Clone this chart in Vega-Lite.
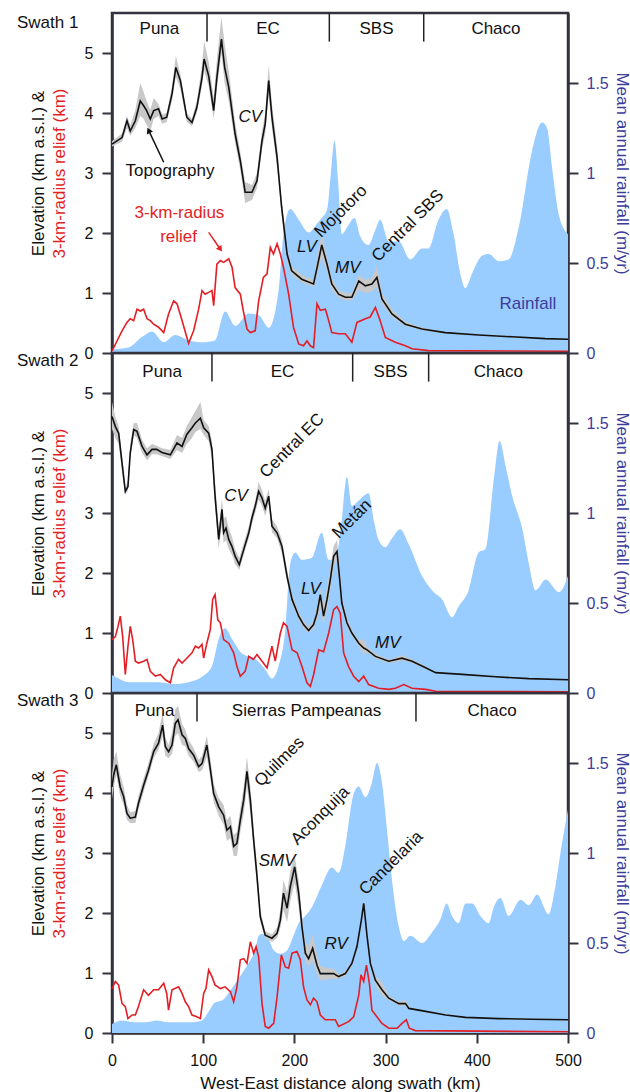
{
"$schema": "https://vega.github.io/schema/vega-lite/v6.json",
"padding": {"left": 15, "top": 11, "right": 0, "bottom": 0},
"background": "white",
"datasets": {
"t1": [
{"km":0,"elev":3.48,"lo":3.44,"hi":3.53},{"km":11,"elev":3.59,"lo":3.52,"hi":3.66},{"km":16.4,"elev":3.87,"lo":3.75,"hi":3.95},{"km":20,"elev":3.7,"lo":3.62,"hi":3.8},{"km":25.6,"elev":3.87,"lo":3.75,"hi":4.05},{"km":31,"elev":4.2,"lo":3.95,"hi":4.5},{"km":34.7,"elev":4.12,"lo":3.9,"hi":4.35},{"km":38,"elev":4.04,"lo":3.8,"hi":4.2},{"km":42,"elev":3.9,"lo":3.7,"hi":4.05},{"km":45.7,"elev":4.04,"lo":3.9,"hi":4.25},{"km":51,"elev":4.07,"lo":3.95,"hi":4.15},{"km":55,"elev":3.9,"lo":3.82,"hi":3.98},{"km":60,"elev":3.93,"lo":3.85,"hi":4.0},{"km":65.8,"elev":4.32,"lo":4.2,"hi":4.45},{"km":70,"elev":4.76,"lo":4.6,"hi":4.95},{"km":75,"elev":4.54,"lo":4.4,"hi":4.65},{"km":82,"elev":3.93,"lo":3.85,"hi":4.0},{"km":87.7,"elev":3.84,"lo":3.78,"hi":3.9},{"km":93,"elev":4.09,"lo":4.0,"hi":4.2},{"km":98.7,"elev":4.59,"lo":4.45,"hi":4.8},{"km":101,"elev":4.9,"lo":4.7,"hi":5.2},{"km":106,"elev":4.62,"lo":4.45,"hi":4.85},{"km":111.5,"elev":4.04,"lo":3.9,"hi":4.25},{"km":115,"elev":4.59,"lo":4.4,"hi":4.9},{"km":120,"elev":5.23,"lo":5.0,"hi":5.6},{"km":123.5,"elev":4.76,"lo":4.5,"hi":5.15},{"km":128,"elev":4.43,"lo":4.2,"hi":4.7},{"km":135,"elev":3.65,"lo":3.5,"hi":3.85},{"km":140.7,"elev":3.2,"lo":3.05,"hi":3.35},{"km":146,"elev":2.68,"lo":2.5,"hi":2.85},{"km":153.5,"elev":2.68,"lo":2.55,"hi":2.8},{"km":159,"elev":2.87,"lo":2.75,"hi":3.0},{"km":164.5,"elev":3.54,"lo":3.4,"hi":3.7},{"km":168,"elev":3.82,"lo":3.65,"hi":4.0},{"km":171.8,"elev":4.54,"lo":4.3,"hi":4.8},{"km":175.4,"elev":3.93,"lo":3.75,"hi":4.15},{"km":181,"elev":3.26,"lo":3.1,"hi":3.45},{"km":186,"elev":2.43,"lo":2.3,"hi":2.55},{"km":192,"elev":1.65,"lo":1.55,"hi":1.75},{"km":197,"elev":1.37,"lo":1.3,"hi":1.45},{"km":208,"elev":1.23,"lo":1.18,"hi":1.3},{"km":221,"elev":1.15,"lo":1.1,"hi":1.22},{"km":225,"elev":1.43,"lo":1.3,"hi":1.6},{"km":230,"elev":1.8,"lo":1.6,"hi":2.0},{"km":235.8,"elev":1.48,"lo":1.35,"hi":1.6},{"km":241,"elev":1.15,"lo":1.05,"hi":1.25},{"km":248.5,"elev":0.98,"lo":0.92,"hi":1.05},{"km":255.8,"elev":0.93,"lo":0.88,"hi":1.0},{"km":263,"elev":0.93,"lo":0.88,"hi":1.0},{"km":270.6,"elev":1.2,"lo":1.05,"hi":1.3},{"km":277.8,"elev":1.12,"lo":1.0,"hi":1.22},{"km":285,"elev":1.15,"lo":1.02,"hi":1.25},{"km":290.5,"elev":1.26,"lo":1.1,"hi":1.45},{"km":296,"elev":0.9,"lo":0.82,"hi":1.0},{"km":307,"elev":0.65,"lo":0.6,"hi":0.72},{"km":321.6,"elev":0.48,"lo":0.45,"hi":0.52},{"km":339.9,"elev":0.4,"lo":0.38,"hi":0.42},{"km":365.5,"elev":0.34,"lo":0.33,"hi":0.35},{"km":402,"elev":0.3,"lo":0.29,"hi":0.31},{"km":438.6,"elev":0.27,"lo":0.26,"hi":0.28},{"km":475,"elev":0.24,"lo":0.23,"hi":0.25},{"km":500,"elev":0.23,"lo":0.22,"hi":0.24}
],
"r1": [
{"km":0,"relief":0.03},{"km":5.5,"relief":0.2},{"km":11,"relief":0.37},{"km":16.4,"relief":0.51},{"km":20,"relief":0.57},{"km":23.8,"relief":0.54},{"km":27.4,"relief":0.73},{"km":31,"relief":0.7},{"km":34.7,"relief":0.73},{"km":38.4,"relief":0.57},{"km":42,"relief":0.54},{"km":45.7,"relief":0.48},{"km":51,"relief":0.43},{"km":56.7,"relief":0.34},{"km":62,"relief":0.65},{"km":67.6,"relief":0.87},{"km":71.3,"relief":0.82},{"km":76.8,"relief":0.54},{"km":80,"relief":0.37},{"km":84,"relief":0.16},{"km":89.5,"relief":0.37},{"km":95,"relief":0.73},{"km":98.7,"relief":1.04},{"km":102,"relief":0.98},{"km":106,"relief":1.01},{"km":109.6,"relief":1.04},{"km":111.5,"relief":0.79},{"km":115,"relief":1.48},{"km":118.8,"relief":1.54},{"km":122.4,"relief":1.51},{"km":128,"relief":1.57},{"km":131.6,"relief":1.43},{"km":135,"relief":1.09},{"km":140.7,"relief":0.98},{"km":144,"relief":0.7},{"km":148,"relief":0.4},{"km":151.7,"relief":0.34},{"km":157,"relief":0.37},{"km":160.8,"relief":0.87},{"km":166,"relief":1.26},{"km":170,"relief":1.32},{"km":173.6,"relief":1.76},{"km":177,"relief":1.65},{"km":181,"relief":1.82},{"km":184.6,"relief":1.65},{"km":188,"relief":1.43},{"km":193.7,"relief":0.98},{"km":199,"relief":0.43},{"km":204.7,"relief":0.15},{"km":210,"relief":0.12},{"km":213.8,"relief":0.2},{"km":217.5,"relief":0.12},{"km":221,"relief":0.09},{"km":224.8,"relief":0.82},{"km":228.4,"relief":0.71},{"km":234,"relief":0.73},{"km":237.6,"relief":0.54},{"km":241,"relief":0.34},{"km":248.5,"relief":0.32},{"km":255.8,"relief":0.32},{"km":263,"relief":0.18},{"km":268.6,"relief":0.51},{"km":277.8,"relief":0.57},{"km":283,"relief":0.6},{"km":288.8,"relief":0.76},{"km":294,"relief":0.54},{"km":299.7,"relief":0.26},{"km":310.7,"relief":0.18},{"km":321.6,"relief":0.12},{"km":329,"relief":0.07},{"km":347,"relief":0.04},{"km":500,"relief":0.03}
],
"p1": [
{"km":0,"rain":0.02},{"km":18,"rain":0.03},{"km":33,"rain":0.09},{"km":44,"rain":0.12},{"km":56.7,"rain":0.06},{"km":69.4,"rain":0.1},{"km":84,"rain":0.07},{"km":98.7,"rain":0.06},{"km":113,"rain":0.07},{"km":124,"rain":0.23},{"km":135,"rain":0.15},{"km":150,"rain":0.22},{"km":161,"rain":0.21},{"km":172,"rain":0.14},{"km":182.7,"rain":0.35},{"km":188,"rain":0.66},{"km":195.5,"rain":0.8},{"km":204.7,"rain":0.74},{"km":215.6,"rain":0.67},{"km":225,"rain":0.72},{"km":230,"rain":0.75},{"km":236,"rain":0.8},{"km":240,"rain":1.0},{"km":244,"rain":1.18},{"km":248,"rain":0.95},{"km":252,"rain":0.66},{"km":258,"rain":0.7},{"km":266,"rain":0.75},{"km":272,"rain":0.65},{"km":281,"rain":0.6},{"km":290,"rain":0.7},{"km":294,"rain":0.74},{"km":303.5,"rain":0.62},{"km":314.5,"rain":0.62},{"km":327,"rain":0.52},{"km":339.9,"rain":0.58},{"km":347,"rain":0.58},{"km":358,"rain":0.74},{"km":367,"rain":0.8},{"km":374.6,"rain":0.66},{"km":381.9,"rain":0.44},{"km":387.4,"rain":0.36},{"km":394.7,"rain":0.44},{"km":405.7,"rain":0.54},{"km":413,"rain":0.55},{"km":424,"rain":0.51},{"km":435,"rain":0.52},{"km":446,"rain":0.7},{"km":460.5,"rain":1.12},{"km":471.5,"rain":1.28},{"km":477,"rain":1.25},{"km":482.5,"rain":1.03},{"km":489.8,"rain":0.77},{"km":500,"rain":0.66}
],
"t2": [
{"km":0,"elev":4.61,"lo":4.4,"hi":4.85},{"km":3.7,"elev":4.44,"lo":4.25,"hi":4.6},{"km":7.3,"elev":4.33,"lo":4.15,"hi":4.45},{"km":11,"elev":3.83,"lo":3.7,"hi":3.95},{"km":14.6,"elev":3.36,"lo":3.3,"hi":3.42},{"km":17.5,"elev":3.44,"lo":3.38,"hi":3.55},{"km":20,"elev":4.0,"lo":3.9,"hi":4.15},{"km":23.8,"elev":4.39,"lo":4.3,"hi":4.5},{"km":27.4,"elev":4.36,"lo":4.25,"hi":4.5},{"km":33,"elev":4.11,"lo":4.0,"hi":4.22},{"km":38.4,"elev":3.97,"lo":3.88,"hi":4.08},{"km":43.9,"elev":4.06,"lo":3.98,"hi":4.15},{"km":49,"elev":4.06,"lo":3.98,"hi":4.12},{"km":54.8,"elev":4.01,"lo":3.95,"hi":4.08},{"km":64,"elev":3.97,"lo":3.9,"hi":4.05},{"km":71.3,"elev":4.17,"lo":4.05,"hi":4.3},{"km":76.8,"elev":4.11,"lo":4.0,"hi":4.25},{"km":82,"elev":4.31,"lo":4.15,"hi":4.45},{"km":87.7,"elev":4.42,"lo":4.25,"hi":4.6},{"km":91.4,"elev":4.5,"lo":4.35,"hi":4.7},{"km":96.9,"elev":4.58,"lo":4.4,"hi":4.85},{"km":100.5,"elev":4.42,"lo":4.3,"hi":4.55},{"km":106,"elev":4.33,"lo":4.2,"hi":4.45},{"km":109.6,"elev":4.06,"lo":3.9,"hi":4.2},{"km":113,"elev":3.28,"lo":3.1,"hi":3.5},{"km":117,"elev":2.56,"lo":2.4,"hi":2.75},{"km":120.6,"elev":3.06,"lo":2.8,"hi":3.25},{"km":122.4,"elev":2.67,"lo":2.5,"hi":2.9},{"km":125,"elev":2.75,"lo":2.55,"hi":2.95},{"km":128,"elev":2.56,"lo":2.4,"hi":2.75},{"km":131.6,"elev":2.44,"lo":2.3,"hi":2.6},{"km":135,"elev":2.28,"lo":2.15,"hi":2.4},{"km":139.6,"elev":2.14,"lo":2.05,"hi":2.25},{"km":144.4,"elev":2.39,"lo":2.3,"hi":2.5},{"km":150,"elev":2.67,"lo":2.58,"hi":2.78},{"km":153.5,"elev":2.92,"lo":2.82,"hi":3.02},{"km":157,"elev":3.11,"lo":3.0,"hi":3.2},{"km":160.8,"elev":3.36,"lo":3.22,"hi":3.52},{"km":164.5,"elev":3.25,"lo":3.12,"hi":3.38},{"km":168,"elev":3.08,"lo":2.95,"hi":3.2},{"km":171.8,"elev":3.28,"lo":3.15,"hi":3.4},{"km":175.4,"elev":2.78,"lo":2.68,"hi":2.9},{"km":181,"elev":2.67,"lo":2.58,"hi":2.78},{"km":186.4,"elev":2.44,"lo":2.32,"hi":2.55},{"km":192,"elev":1.94,"lo":1.85,"hi":2.05},{"km":197.4,"elev":1.56,"lo":1.48,"hi":1.65},{"km":204.7,"elev":1.28,"lo":1.22,"hi":1.35},{"km":210,"elev":1.14,"lo":1.08,"hi":1.2},{"km":215.6,"elev":1.04,"lo":1.0,"hi":1.1},{"km":221,"elev":1.14,"lo":1.08,"hi":1.2},{"km":224.8,"elev":1.33,"lo":1.22,"hi":1.45},{"km":228.4,"elev":1.64,"lo":1.4,"hi":1.75},{"km":232,"elev":1.28,"lo":1.15,"hi":1.45},{"km":235.8,"elev":1.56,"lo":1.4,"hi":1.75},{"km":239.4,"elev":1.89,"lo":1.7,"hi":2.1},{"km":243,"elev":2.28,"lo":2.1,"hi":2.45},{"km":246.7,"elev":2.36,"lo":2.2,"hi":2.55},{"km":249,"elev":2.0,"lo":1.85,"hi":2.2},{"km":252,"elev":1.5,"lo":1.4,"hi":1.62},{"km":257.6,"elev":1.17,"lo":1.1,"hi":1.25},{"km":263,"elev":1.0,"lo":0.95,"hi":1.05},{"km":270.6,"elev":0.83,"lo":0.78,"hi":0.88},{"km":276,"elev":0.75,"lo":0.65,"hi":0.9},{"km":279.7,"elev":0.72,"lo":0.68,"hi":0.77},{"km":288.8,"elev":0.61,"lo":0.58,"hi":0.65},{"km":303.5,"elev":0.53,"lo":0.5,"hi":0.56},{"km":318,"elev":0.58,"lo":0.54,"hi":0.63},{"km":329,"elev":0.53,"lo":0.5,"hi":0.56},{"km":343.9,"elev":0.42,"lo":0.4,"hi":0.44},{"km":354.9,"elev":0.34,"lo":0.33,"hi":0.35},{"km":384,"elev":0.31,"lo":0.3,"hi":0.32},{"km":420.6,"elev":0.27,"lo":0.26,"hi":0.28},{"km":457,"elev":0.24,"lo":0.23,"hi":0.25},{"km":500,"elev":0.22,"lo":0.21,"hi":0.23}
],
"r2": [
{"km":0,"relief":0.89},{"km":3.7,"relief":0.94},{"km":6.6,"relief":1.11},{"km":9.1,"relief":1.28},{"km":11.7,"relief":0.94},{"km":14.6,"relief":0.31},{"km":17.5,"relief":0.78},{"km":20,"relief":1.11},{"km":22.7,"relief":0.89},{"km":25.6,"relief":0.53},{"km":29,"relief":0.5},{"km":34.7,"relief":0.53},{"km":38.4,"relief":0.56},{"km":42,"relief":0.36},{"km":47.5,"relief":0.28},{"km":53,"relief":0.31},{"km":58.5,"relief":0.22},{"km":64,"relief":0.17},{"km":67.6,"relief":0.42},{"km":73,"relief":0.56},{"km":76.8,"relief":0.5},{"km":82,"relief":0.58},{"km":87.7,"relief":0.67},{"km":91.4,"relief":0.78},{"km":95,"relief":0.75},{"km":98.7,"relief":0.81},{"km":100.5,"relief":0.58},{"km":104,"relief":0.83},{"km":107.8,"relief":1.06},{"km":110.4,"relief":1.56},{"km":113,"relief":1.64},{"km":116,"relief":1.22},{"km":118.8,"relief":1.17},{"km":122.4,"relief":0.89},{"km":128,"relief":0.83},{"km":133.4,"relief":0.67},{"km":137,"relief":0.44},{"km":140.7,"relief":0.28},{"km":146,"relief":0.36},{"km":150,"relief":0.61},{"km":155,"relief":0.56},{"km":159,"relief":0.64},{"km":164.5,"relief":0.53},{"km":170,"relief":0.42},{"km":175.4,"relief":0.78},{"km":179,"relief":0.53},{"km":184.6,"relief":1.0},{"km":188,"relief":1.17},{"km":192,"relief":1.11},{"km":197.4,"relief":0.72},{"km":203,"relief":0.67},{"km":208.3,"relief":0.44},{"km":213.8,"relief":0.17},{"km":217.5,"relief":0.11},{"km":221,"relief":0.3},{"km":226.6,"relief":0.72},{"km":232,"relief":0.69},{"km":237.6,"relief":1.0},{"km":243,"relief":1.39},{"km":246.7,"relief":1.44},{"km":250.3,"relief":1.33},{"km":254,"relief":0.67},{"km":259.4,"relief":0.44},{"km":265,"relief":0.28},{"km":270.6,"relief":0.19},{"km":276,"relief":0.28},{"km":281.4,"relief":0.14},{"km":292.4,"relief":0.08},{"km":303.5,"relief":0.06},{"km":310.7,"relief":0.08},{"km":320,"relief":0.14},{"km":329,"relief":0.08},{"km":343.9,"relief":0.06},{"km":354.9,"relief":0.03},{"km":500,"relief":0.02}
],
"p2": [
{"km":0,"rain":0.1},{"km":7.3,"rain":0.08},{"km":18,"rain":0.06},{"km":33,"rain":0.06},{"km":51,"rain":0.06},{"km":69,"rain":0.05},{"km":84,"rain":0.06},{"km":98.7,"rain":0.09},{"km":109.6,"rain":0.15},{"km":117,"rain":0.3},{"km":124,"rain":0.36},{"km":131.6,"rain":0.3},{"km":142.5,"rain":0.22},{"km":157,"rain":0.19},{"km":168,"rain":0.13},{"km":175.4,"rain":0.08},{"km":182.7,"rain":0.15},{"km":190,"rain":0.35},{"km":195.5,"rain":0.72},{"km":201,"rain":0.78},{"km":208,"rain":0.74},{"km":219,"rain":0.75},{"km":230,"rain":0.89},{"km":237.6,"rain":0.74},{"km":245,"rain":0.74},{"km":251,"rain":0.92},{"km":257.6,"rain":1.2},{"km":263,"rain":1.04},{"km":270.6,"rain":1.07},{"km":281.4,"rain":1.11},{"km":287,"rain":0.96},{"km":292.4,"rain":0.85},{"km":299.7,"rain":0.81},{"km":307,"rain":0.86},{"km":316,"rain":0.91},{"km":325,"rain":0.83},{"km":340,"rain":0.65},{"km":351,"rain":0.57},{"km":362,"rain":0.52},{"km":373,"rain":0.42},{"km":380,"rain":0.48},{"km":391,"rain":0.57},{"km":402,"rain":0.78},{"km":409.6,"rain":0.8},{"km":418.7,"rain":1.19},{"km":425,"rain":1.4},{"km":431.6,"rain":1.26},{"km":439,"rain":1.09},{"km":450,"rain":0.91},{"km":457,"rain":0.72},{"km":464.5,"rain":0.57},{"km":475.5,"rain":0.63},{"km":490,"rain":0.56},{"km":500,"rain":0.65}
],
"t3": [
{"km":0,"elev":4.1,"lo":3.9,"hi":4.3},{"km":1.8,"elev":4.3,"lo":4.1,"hi":4.55},{"km":4.7,"elev":4.47,"lo":4.3,"hi":4.7},{"km":9,"elev":4.1,"lo":3.95,"hi":4.3},{"km":12.8,"elev":3.94,"lo":3.8,"hi":4.1},{"km":16.4,"elev":3.66,"lo":3.55,"hi":3.8},{"km":20,"elev":3.58,"lo":3.5,"hi":3.68},{"km":25.6,"elev":3.6,"lo":3.5,"hi":3.7},{"km":29,"elev":3.83,"lo":3.72,"hi":3.95},{"km":34.7,"elev":4.13,"lo":4.02,"hi":4.25},{"km":40,"elev":4.38,"lo":4.28,"hi":4.5},{"km":45.7,"elev":4.69,"lo":4.58,"hi":4.82},{"km":51,"elev":4.83,"lo":4.72,"hi":5.0},{"km":55.5,"elev":5.13,"lo":4.95,"hi":5.35},{"km":58.5,"elev":4.77,"lo":4.62,"hi":4.92},{"km":62,"elev":4.69,"lo":4.58,"hi":4.8},{"km":65.8,"elev":4.8,"lo":4.65,"hi":5.0},{"km":69.4,"elev":5.16,"lo":4.95,"hi":5.4},{"km":72.4,"elev":5.22,"lo":5.0,"hi":5.45},{"km":76.8,"elev":4.97,"lo":4.8,"hi":5.15},{"km":80.4,"elev":4.91,"lo":4.78,"hi":5.05},{"km":84,"elev":4.74,"lo":4.62,"hi":4.88},{"km":89.5,"elev":4.63,"lo":4.52,"hi":4.75},{"km":95,"elev":4.44,"lo":4.35,"hi":4.55},{"km":98.7,"elev":4.49,"lo":4.38,"hi":4.62},{"km":104,"elev":4.8,"lo":4.6,"hi":4.95},{"km":106.7,"elev":4.52,"lo":4.35,"hi":4.7},{"km":111.5,"elev":3.99,"lo":3.85,"hi":4.15},{"km":117,"elev":3.77,"lo":3.62,"hi":3.92},{"km":122.4,"elev":3.63,"lo":3.48,"hi":3.8},{"km":126,"elev":3.38,"lo":3.2,"hi":3.55},{"km":129.8,"elev":3.44,"lo":3.25,"hi":3.62},{"km":133.4,"elev":3.11,"lo":2.95,"hi":3.3},{"km":137,"elev":3.16,"lo":2.95,"hi":3.35},{"km":140.7,"elev":3.55,"lo":3.35,"hi":3.75},{"km":144.4,"elev":3.88,"lo":3.65,"hi":4.1},{"km":148,"elev":4.36,"lo":4.1,"hi":4.6},{"km":151.7,"elev":3.88,"lo":3.65,"hi":4.1},{"km":155.3,"elev":3.22,"lo":3.05,"hi":3.4},{"km":159,"elev":2.61,"lo":2.45,"hi":2.78},{"km":162.6,"elev":1.94,"lo":1.85,"hi":2.05},{"km":168,"elev":1.63,"lo":1.57,"hi":1.7},{"km":175.4,"elev":1.58,"lo":1.52,"hi":1.64},{"km":181,"elev":1.66,"lo":1.58,"hi":1.76},{"km":184.6,"elev":1.88,"lo":1.75,"hi":2.05},{"km":188,"elev":2.33,"lo":2.05,"hi":2.55},{"km":192,"elev":2.08,"lo":1.85,"hi":2.35},{"km":195.5,"elev":2.44,"lo":2.2,"hi":2.7},{"km":200.3,"elev":2.77,"lo":2.5,"hi":2.95},{"km":204.7,"elev":2.33,"lo":2.1,"hi":2.55},{"km":208.3,"elev":1.77,"lo":1.6,"hi":1.95},{"km":212,"elev":1.33,"lo":1.2,"hi":1.5},{"km":215.6,"elev":1.24,"lo":1.1,"hi":1.45},{"km":220,"elev":1.41,"lo":1.2,"hi":1.65},{"km":224.8,"elev":1.13,"lo":0.98,"hi":1.3},{"km":228.4,"elev":0.99,"lo":0.88,"hi":1.12},{"km":232,"elev":0.99,"lo":0.88,"hi":1.1},{"km":237.6,"elev":0.99,"lo":0.9,"hi":1.08},{"km":243,"elev":0.99,"lo":0.9,"hi":1.07},{"km":248.5,"elev":0.94,"lo":0.9,"hi":0.98},{"km":255.8,"elev":0.99,"lo":0.95,"hi":1.03},{"km":263,"elev":1.16,"lo":1.12,"hi":1.2},{"km":268.6,"elev":1.44,"lo":1.4,"hi":1.48},{"km":273.4,"elev":1.88,"lo":1.82,"hi":1.94},{"km":276,"elev":2.16,"lo":2.1,"hi":2.25},{"km":279.7,"elev":1.61,"lo":1.55,"hi":1.67},{"km":283.3,"elev":1.16,"lo":1.1,"hi":1.22},{"km":288.8,"elev":0.88,"lo":0.8,"hi":0.95},{"km":296,"elev":0.72,"lo":0.62,"hi":0.85},{"km":303.5,"elev":0.58,"lo":0.55,"hi":0.62},{"km":314.5,"elev":0.49,"lo":0.46,"hi":0.52},{"km":321.8,"elev":0.49,"lo":0.45,"hi":0.55},{"km":325.5,"elev":0.41,"lo":0.39,"hi":0.43},{"km":343.9,"elev":0.36,"lo":0.35,"hi":0.37},{"km":365.8,"elev":0.3,"lo":0.29,"hi":0.31},{"km":387.7,"elev":0.26,"lo":0.25,"hi":0.27},{"km":424,"elev":0.24,"lo":0.23,"hi":0.25},{"km":460.5,"elev":0.23,"lo":0.22,"hi":0.24},{"km":500,"elev":0.22,"lo":0.21,"hi":0.23}
],
"r3": [
{"km":0,"relief":0.74},{"km":3.7,"relief":0.86},{"km":7.3,"relief":0.8},{"km":11,"relief":0.49},{"km":14.6,"relief":0.44},{"km":17.5,"relief":0.24},{"km":22,"relief":0.3},{"km":25.6,"relief":0.3},{"km":29,"relief":0.44},{"km":34.7,"relief":0.72},{"km":40,"relief":0.63},{"km":45.7,"relief":0.72},{"km":51,"relief":0.72},{"km":56.7,"relief":0.83},{"km":60,"relief":0.66},{"km":62,"relief":0.38},{"km":65.8,"relief":0.72},{"km":73,"relief":0.77},{"km":76.8,"relief":0.66},{"km":80.4,"relief":0.52},{"km":84,"relief":0.44},{"km":87.7,"relief":0.3},{"km":93,"relief":0.27},{"km":96.9,"relief":0.24},{"km":100.5,"relief":0.66},{"km":103,"relief":0.74},{"km":106,"relief":1.05},{"km":109.6,"relief":0.94},{"km":113,"relief":0.8},{"km":118.8,"relief":0.74},{"km":124,"relief":0.77},{"km":129.8,"relief":0.69},{"km":133.4,"relief":0.52},{"km":137,"relief":0.77},{"km":140.7,"relief":1.22},{"km":144.4,"relief":1.24},{"km":148,"relief":1.16},{"km":151.7,"relief":1.52},{"km":155.3,"relief":1.33},{"km":158,"relief":1.44},{"km":160.8,"relief":1.27},{"km":164.5,"relief":0.49},{"km":168,"relief":0.11},{"km":171.8,"relief":0.08},{"km":177.3,"relief":0.16},{"km":181,"relief":0.6},{"km":185.7,"relief":1.3},{"km":190,"relief":1.1},{"km":193.7,"relief":1.08},{"km":197.4,"relief":1.33},{"km":202.8,"relief":1.36},{"km":206.5,"relief":1.22},{"km":210,"relief":0.77},{"km":213.8,"relief":0.55},{"km":217.5,"relief":0.47},{"km":221,"relief":0.58},{"km":224.8,"relief":0.52},{"km":228.4,"relief":0.3},{"km":233.9,"relief":0.22},{"km":241,"relief":0.22},{"km":244.9,"relief":0.22},{"km":248.5,"relief":0.11},{"km":259.4,"relief":0.19},{"km":265,"relief":0.27},{"km":270.6,"relief":0.63},{"km":273,"relief":0.97},{"km":276,"relief":0.86},{"km":279,"relief":1.13},{"km":282.2,"relief":0.83},{"km":285,"relief":0.38},{"km":290.5,"relief":0.27},{"km":296,"relief":0.16},{"km":303.5,"relief":0.08},{"km":312.6,"relief":0.08},{"km":318,"relief":0.16},{"km":322.8,"relief":0.22},{"km":326,"relief":0.08},{"km":332.6,"relief":0.04},{"km":500,"relief":0.02}
],
"p3": [
{"km":0,"rain":0.05},{"km":11,"rain":0.07},{"km":25.6,"rain":0.06},{"km":36.5,"rain":0.06},{"km":49,"rain":0.07},{"km":62,"rain":0.06},{"km":76.8,"rain":0.06},{"km":87.7,"rain":0.06},{"km":98.7,"rain":0.07},{"km":106,"rain":0.12},{"km":113,"rain":0.17},{"km":120.6,"rain":0.18},{"km":131.6,"rain":0.25},{"km":142.5,"rain":0.33},{"km":150,"rain":0.39},{"km":157,"rain":0.46},{"km":160.8,"rain":0.54},{"km":164.5,"rain":0.55},{"km":171.8,"rain":0.52},{"km":177.3,"rain":0.46},{"km":184.6,"rain":0.44},{"km":192,"rain":0.46},{"km":197.4,"rain":0.52},{"km":204.7,"rain":0.61},{"km":212,"rain":0.65},{"km":219.3,"rain":0.7},{"km":230,"rain":0.82},{"km":241,"rain":0.92},{"km":248.5,"rain":0.89},{"km":255.8,"rain":1.04},{"km":261,"rain":1.22},{"km":265,"rain":1.33},{"km":270.6,"rain":1.37},{"km":277.8,"rain":1.31},{"km":285,"rain":1.39},{"km":290.5,"rain":1.5},{"km":296,"rain":1.39},{"km":301.5,"rain":1.13},{"km":307,"rain":0.85},{"km":314.5,"rain":0.59},{"km":320,"rain":0.51},{"km":327,"rain":0.54},{"km":340,"rain":0.5},{"km":351,"rain":0.56},{"km":360,"rain":0.63},{"km":367,"rain":0.72},{"km":372.8,"rain":0.65},{"km":380,"rain":0.61},{"km":387.7,"rain":0.72},{"km":395,"rain":0.72},{"km":404,"rain":0.65},{"km":413,"rain":0.61},{"km":418.7,"rain":0.7},{"km":426,"rain":0.75},{"km":435,"rain":0.65},{"km":448,"rain":0.74},{"km":457,"rain":0.71},{"km":466,"rain":0.77},{"km":478.8,"rain":0.66},{"km":486,"rain":0.81},{"km":493,"rain":1.04},{"km":500,"rain":1.24}
],
"a1": [
{"km":63.6,"elev":3.03,"label":"Topography","kind":"n"},
{"km":74,"elev":2.33,"label":"3-km-radius","kind":"r"},
{"km":73,"elev":1.94,"label":"relief","kind":"r"},
{"km":151.6,"elev":3.93,"label":"CV","kind":"i"},
{"km":213.8,"elev":1.76,"label":"LV","kind":"i"},
{"km":258.6,"elev":1.41,"label":"MV","kind":"i"},
{"km":251,"elev":2.36,"label":"Mojotoro","kind":"t"},
{"km":324.4,"elev":2.12,"label":"Central SBS","kind":"t"},
{"km":456,"elev":0.81,"label":"Rainfall","kind":"b"}
],
"a2": [
{"km":136,"elev":3.29,"label":"CV","kind":"i"},
{"km":197.5,"elev":4.12,"label":"Central EC","kind":"t"},
{"km":218,"elev":1.73,"label":"LV","kind":"i"},
{"km":263,"elev":2.9,"label":"Metán","kind":"t"},
{"km":302.4,"elev":0.83,"label":"MV","kind":"i"}
],
"a3": [
{"km":183.7,"elev":4.52,"label":"Quilmes","kind":"t"},
{"km":228.4,"elev":3.62,"label":"Aconquija","kind":"t"},
{"km":181,"elev":2.86,"label":"SMV","kind":"i"},
{"km":245.8,"elev":1.48,"label":"RV","kind":"i"},
{"km":306.1,"elev":2.83,"label":"Candelaria","kind":"t"}
],
"w1": [
{"km":56.7,"elev":3.18,"km2":40.2,"elev2":3.71,"kind":"k"},
{"km":106,"elev":2.01,"km2":118.8,"elev2":1.73,"kind":"r"}
],
"g1": [{"km":52,"label":"Puna"},{"km":171,"label":"EC"},{"km":290,"label":"SBS"},{"km":421,"label":"Chaco"}],
"g2": [{"km":55,"label":"Puna"},{"km":187,"label":"EC"},{"km":305.5,"label":"SBS"},{"km":423.6,"label":"Chaco"}],
"g3": [{"km":46.6,"label":"Puna"},{"km":213.3,"label":"Sierras Pampeanas"},{"km":416.7,"label":"Chaco"}],
"d1": [{"km":104.2},{"km":238.3},{"km":341.8}],
"d2": [{"km":109.6},{"km":263.9},{"km":347.2}],
"d3": [{"km":93.2},{"km":333.3}]
},
"vconcat": [
{
"width": 456, "height": 340,
"title": {"text": "Swath 1", "anchor": "start", "frame": "group", "orient": "top", "dx": -95, "dy": 33, "offset": 0, "baseline": "alphabetic", "fontSize": 17, "fontWeight": "normal", "color": "#111111", "font": "Liberation Sans"},
"encoding": {"x": {"field": "km", "type": "quantitative", "scale": {"domain": [0, 500], "nice": false, "zero": false}, "axis": null}},
"layer": [
{"data": {"name": "p1"}, "mark": {"type": "area", "color": "#99ccff", "interpolate": "monotone", "opacity": 1},
 "encoding": {"y": {"field": "rain", "type": "quantitative", "scale": {"domain": [0, 1.8889], "nice": false}, "axis": {"orient": "right", "values": [0, 0.5, 1, 1.5], "format": "~g", "labelColor": "#3c3c9c", "labelPadding": 8, "title": "Mean annual rainfall (m/yr)", "titleColor": "#3c3c9c", "titlePadding": 4, "titleY": 160, "domain": true}}}},
{"data": {"name": "t1"}, "mark": {"type": "area", "color": "#c8c8c8", "opacity": 1},
 "encoding": {"y": {"field": "lo", "type": "quantitative", "scale": {"domain": [0, 5.6667], "nice": false}, "axis": null}, "y2": {"field": "hi"}}},
{"data": {"name": "r1"}, "mark": {"type": "line", "color": "#e31e24", "strokeWidth": 1.6},
 "encoding": {"y": {"field": "relief", "type": "quantitative", "scale": {"domain": [0, 5.6667], "nice": false}, "axis": {"orient": "left", "labels": false, "ticks": false, "domain": false, "title": "3-km-radius relief (km)", "titleColor": "#e31e24", "titlePadding": 44, "titleY": 160}}}},
{"data": {"name": "t1"}, "mark": {"type": "line", "color": "#111111", "strokeWidth": 1.6},
 "encoding": {"y": {"field": "elev", "type": "quantitative", "scale": {"domain": [0, 5.6667], "nice": false}, "axis": {"orient": "left", "values": [0, 1, 2, 3, 4, 5], "format": "d", "labelPadding": 9, "title": "Elevation (km a.s.l.) &", "titlePadding": 37, "titleY": 160, "domain": true}}}},
{"data": {"name": "d1"}, "mark": {"type": "rule", "color": "#222222", "strokeWidth": 1.5},
 "encoding": {"y": {"datum": 5.6667, "type": "quantitative", "scale": {"domain": [0, 5.6667], "nice": false}, "axis": null}, "y2": {"datum": 5.19}}},
{"data": {"name": "g1"}, "mark": {"type": "text", "fontSize": 17, "color": "#111111", "baseline": "alphabetic", "align": "center"},
 "encoding": {"y": {"datum": 5.31, "type": "quantitative", "scale": {"domain": [0, 5.6667], "nice": false}, "axis": null}, "text": {"field": "label"}}},
{"data": {"name": "a1"}, "transform": [{"filter": "datum.kind === 'i'"}], "mark": {"type": "text", "fontSize": 17, "fontStyle": "italic", "color": "#111111", "baseline": "middle", "align": "center"},
 "encoding": {"y": {"field": "elev", "type": "quantitative", "scale": {"domain": [0, 5.6667], "nice": false}, "axis": null}, "text": {"field": "label"}}},
{"data": {"name": "a1"}, "transform": [{"filter": "datum.kind === 't'"}], "mark": {"type": "text", "fontSize": 17, "angle": 315, "color": "#111111", "baseline": "middle", "align": "center"},
 "encoding": {"y": {"field": "elev", "type": "quantitative", "scale": {"domain": [0, 5.6667], "nice": false}, "axis": null}, "text": {"field": "label"}}},
{"data": {"name": "a1"}, "transform": [{"filter": "datum.kind === 'n'"}], "mark": {"type": "text", "fontSize": 17, "color": "#111111", "baseline": "middle", "align": "center"},
 "encoding": {"y": {"field": "elev", "type": "quantitative", "scale": {"domain": [0, 5.6667], "nice": false}, "axis": null}, "text": {"field": "label"}}},
{"data": {"name": "a1"}, "transform": [{"filter": "datum.kind === 'r'"}], "mark": {"type": "text", "fontSize": 17, "color": "#e31e24", "baseline": "middle", "align": "center"},
 "encoding": {"y": {"field": "elev", "type": "quantitative", "scale": {"domain": [0, 5.6667], "nice": false}, "axis": null}, "text": {"field": "label"}}},
{"data": {"name": "a1"}, "transform": [{"filter": "datum.kind === 'b'"}], "mark": {"type": "text", "fontSize": 17, "color": "#3c3c9c", "baseline": "middle", "align": "center"},
 "encoding": {"y": {"field": "elev", "type": "quantitative", "scale": {"domain": [0, 5.6667], "nice": false}, "axis": null}, "text": {"field": "label"}}},
{"data": {"name": "w1"}, "transform": [{"filter": "datum.kind === 'k'"}], "mark": {"type": "rule", "color": "#111111", "strokeWidth": 1.5},
 "encoding": {"y": {"field": "elev", "type": "quantitative", "scale": {"domain": [0, 5.6667], "nice": false}, "axis": null}, "x2": {"field": "km2"}, "y2": {"field": "elev2"}}},
{"data": {"name": "w1"}, "transform": [{"filter": "datum.kind === 'r'"}], "mark": {"type": "rule", "color": "#e31e24", "strokeWidth": 1.5},
 "encoding": {"y": {"field": "elev", "type": "quantitative", "scale": {"domain": [0, 5.6667], "nice": false}, "axis": null}, "x2": {"field": "km2"}, "y2": {"field": "elev2"}}},
{"data": {"name": "w1"}, "transform": [{"filter": "datum.kind === 'k'"}], "mark": {"type": "point", "shape": "triangle-up", "filled": true, "size": 45, "angle": 335, "color": "#111111", "opacity": 1},
 "encoding": {"x": {"field": "km2", "type": "quantitative", "scale": {"domain": [0, 500], "nice": false, "zero": false}, "axis": null}, "y": {"field": "elev2", "type": "quantitative", "scale": {"domain": [0, 5.6667], "nice": false}, "axis": null}}},
{"data": {"name": "w1"}, "transform": [{"filter": "datum.kind === 'r'"}], "mark": {"type": "point", "shape": "triangle-up", "filled": true, "size": 45, "angle": 145, "color": "#e31e24", "opacity": 1},
 "encoding": {"x": {"field": "km2", "type": "quantitative", "scale": {"domain": [0, 500], "nice": false, "zero": false}, "axis": null}, "y": {"field": "elev2", "type": "quantitative", "scale": {"domain": [0, 5.6667], "nice": false}, "axis": null}}}
],
"resolve": {"scale": {"y": "independent"}}
},
{
"width": 456, "height": 340,
"title": {"text": "Swath 2", "anchor": "start", "frame": "group", "orient": "top", "dx": -95, "dy": 31, "offset": 0, "baseline": "alphabetic", "fontSize": 17, "fontWeight": "normal", "color": "#111111", "font": "Liberation Sans"},
"encoding": {"x": {"field": "km", "type": "quantitative", "scale": {"domain": [0, 500], "nice": false, "zero": false}, "axis": null}},
"layer": [
{"data": {"name": "p2"}, "mark": {"type": "area", "color": "#99ccff", "interpolate": "monotone", "opacity": 1},
 "encoding": {"y": {"field": "rain", "type": "quantitative", "scale": {"domain": [0, 1.8889], "nice": false}, "axis": {"orient": "right", "values": [0, 0.5, 1, 1.5], "format": "~g", "labelColor": "#3c3c9c", "labelPadding": 8, "title": "Mean annual rainfall (m/yr)", "titleColor": "#3c3c9c", "titlePadding": 4, "titleY": 160, "domain": true}}}},
{"data": {"name": "t2"}, "mark": {"type": "area", "color": "#c8c8c8", "opacity": 1},
 "encoding": {"y": {"field": "lo", "type": "quantitative", "scale": {"domain": [0, 5.6667], "nice": false}, "axis": null}, "y2": {"field": "hi"}}},
{"data": {"name": "r2"}, "mark": {"type": "line", "color": "#e31e24", "strokeWidth": 1.6},
 "encoding": {"y": {"field": "relief", "type": "quantitative", "scale": {"domain": [0, 5.6667], "nice": false}, "axis": {"orient": "left", "labels": false, "ticks": false, "domain": false, "title": "3-km-radius relief (km)", "titleColor": "#e31e24", "titlePadding": 44, "titleY": 160}}}},
{"data": {"name": "t2"}, "mark": {"type": "line", "color": "#111111", "strokeWidth": 1.6},
 "encoding": {"y": {"field": "elev", "type": "quantitative", "scale": {"domain": [0, 5.6667], "nice": false}, "axis": {"orient": "left", "values": [0, 1, 2, 3, 4, 5], "format": "d", "labelPadding": 9, "title": "Elevation (km a.s.l.) &", "titlePadding": 37, "titleY": 160, "domain": true}}}},
{"data": {"name": "d2"}, "mark": {"type": "rule", "color": "#222222", "strokeWidth": 1.5},
 "encoding": {"y": {"datum": 5.6667, "type": "quantitative", "scale": {"domain": [0, 5.6667], "nice": false}, "axis": null}, "y2": {"datum": 5.19}}},
{"data": {"name": "g2"}, "mark": {"type": "text", "fontSize": 17, "color": "#111111", "baseline": "alphabetic", "align": "center"},
 "encoding": {"y": {"datum": 5.27, "type": "quantitative", "scale": {"domain": [0, 5.6667], "nice": false}, "axis": null}, "text": {"field": "label"}}},
{"data": {"name": "a2"}, "transform": [{"filter": "datum.kind === 'i'"}], "mark": {"type": "text", "fontSize": 17, "fontStyle": "italic", "color": "#111111", "baseline": "middle", "align": "center"},
 "encoding": {"y": {"field": "elev", "type": "quantitative", "scale": {"domain": [0, 5.6667], "nice": false}, "axis": null}, "text": {"field": "label"}}},
{"data": {"name": "a2"}, "transform": [{"filter": "datum.kind === 't'"}], "mark": {"type": "text", "fontSize": 17, "angle": 315, "color": "#111111", "baseline": "middle", "align": "center"},
 "encoding": {"y": {"field": "elev", "type": "quantitative", "scale": {"domain": [0, 5.6667], "nice": false}, "axis": null}, "text": {"field": "label"}}}
],
"resolve": {"scale": {"y": "independent"}}
},
{
"width": 456, "height": 340,
"title": {"text": "Swath 3", "anchor": "start", "frame": "group", "orient": "top", "dx": -95, "dy": 31, "offset": 0, "baseline": "alphabetic", "fontSize": 17, "fontWeight": "normal", "color": "#111111", "font": "Liberation Sans"},
"encoding": {"x": {"field": "km", "type": "quantitative", "scale": {"domain": [0, 500], "nice": false, "zero": false}, "axis": {"values": [0, 100, 200, 300, 400, 500], "format": "d", "labelFlush": false, "labelPadding": 9, "title": "West-East distance along swath (km)", "titlePadding": 7, "domain": true}}},
"layer": [
{"data": {"name": "p3"}, "mark": {"type": "area", "color": "#99ccff", "interpolate": "monotone", "opacity": 1},
 "encoding": {"y": {"field": "rain", "type": "quantitative", "scale": {"domain": [0, 1.8889], "nice": false}, "axis": {"orient": "right", "values": [0, 0.5, 1, 1.5], "format": "~g", "labelColor": "#3c3c9c", "labelPadding": 8, "title": "Mean annual rainfall (m/yr)", "titleColor": "#3c3c9c", "titlePadding": 4, "titleY": 160, "domain": true}}}},
{"data": {"name": "t3"}, "mark": {"type": "area", "color": "#c8c8c8", "opacity": 1},
 "encoding": {"y": {"field": "lo", "type": "quantitative", "scale": {"domain": [0, 5.6667], "nice": false}, "axis": null}, "y2": {"field": "hi"}}},
{"data": {"name": "r3"}, "mark": {"type": "line", "color": "#e31e24", "strokeWidth": 1.6},
 "encoding": {"y": {"field": "relief", "type": "quantitative", "scale": {"domain": [0, 5.6667], "nice": false}, "axis": {"orient": "left", "labels": false, "ticks": false, "domain": false, "title": "3-km-radius relief (km)", "titleColor": "#e31e24", "titlePadding": 44, "titleY": 160}}}},
{"data": {"name": "t3"}, "mark": {"type": "line", "color": "#111111", "strokeWidth": 1.6},
 "encoding": {"y": {"field": "elev", "type": "quantitative", "scale": {"domain": [0, 5.6667], "nice": false}, "axis": {"orient": "left", "values": [0, 1, 2, 3, 4, 5], "format": "d", "labelPadding": 9, "title": "Elevation (km a.s.l.) &", "titlePadding": 37, "titleY": 160, "domain": true}}}},
{"data": {"name": "d3"}, "mark": {"type": "rule", "color": "#222222", "strokeWidth": 1.5},
 "encoding": {"y": {"datum": 5.6667, "type": "quantitative", "scale": {"domain": [0, 5.6667], "nice": false}, "axis": null}, "y2": {"datum": 5.19}}},
{"data": {"name": "g3"}, "mark": {"type": "text", "fontSize": 17, "color": "#111111", "baseline": "alphabetic", "align": "center"},
 "encoding": {"y": {"datum": 5.28, "type": "quantitative", "scale": {"domain": [0, 5.6667], "nice": false}, "axis": null}, "text": {"field": "label"}}},
{"data": {"name": "a3"}, "transform": [{"filter": "datum.kind === 'i'"}], "mark": {"type": "text", "fontSize": 17, "fontStyle": "italic", "color": "#111111", "baseline": "middle", "align": "center"},
 "encoding": {"y": {"field": "elev", "type": "quantitative", "scale": {"domain": [0, 5.6667], "nice": false}, "axis": null}, "text": {"field": "label"}}},
{"data": {"name": "a3"}, "transform": [{"filter": "datum.kind === 't'"}], "mark": {"type": "text", "fontSize": 17, "angle": 315, "color": "#111111", "baseline": "middle", "align": "center"},
 "encoding": {"y": {"field": "elev", "type": "quantitative", "scale": {"domain": [0, 5.6667], "nice": false}, "axis": null}, "text": {"field": "label"}}}
],
"resolve": {"scale": {"y": "independent"}}
}
],
"spacing": 0,
"bounds": "flush",
"config": {
"font": "Liberation Sans",
"view": {"stroke": "#33333f", "strokeWidth": 2.5},
"axis": {"grid": false, "labelFont": "Liberation Sans", "labelFontSize": 16, "labelColor": "#111111", "titleFont": "Liberation Sans", "titleFontSize": 17, "titleFontWeight": "normal", "titleColor": "#111111", "tickColor": "#33333f", "tickWidth": 2, "tickSize": 10, "domainColor": "#33333f", "domainWidth": 2.5, "zindex": 1},
"text": {"font": "Liberation Sans"},
"title": {"font": "Liberation Sans"}
}
}
